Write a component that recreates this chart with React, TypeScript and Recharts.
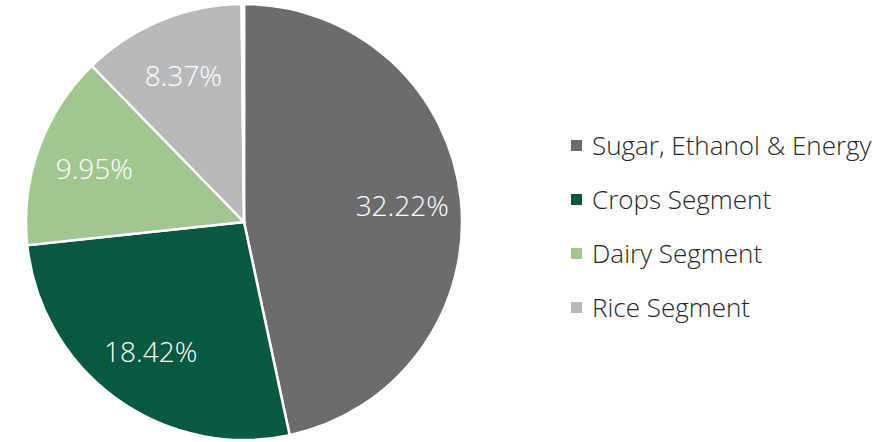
import { PieChart, Pie, Cell, Legend } from 'recharts'

const segments = ['Sugar, Ethanol & Energy', 'Crops Segment', 'Dairy Segment', 'Rice Segment', 'Others']
const shares = [32.22, 18.42, 9.95, 8.37, 0.12]
const colors = ['#6b6c6e', '#075942', '#a2c68f', '#b8b9bb', '#c3d6d6']
const legendItems = ['Sugar, Ethanol & Energy', 'Crops Segment', 'Dairy Segment', 'Rice Segment']

const data = segments.map((name, i) => ({ name, value: shares[i] }))

const FONT = '"Open Sans", sans-serif'

const RADIAN = Math.PI / 180

function SliceLabel(props: any) {
  const { cx, cy, midAngle, outerRadius, value } = props
  if (value < 1) return null
  const r = outerRadius * 0.73
  const x = cx + r * Math.cos(-midAngle * RADIAN)
  const y = cy + r * Math.sin(-midAngle * RADIAN)
  return (
    <text
      x={x}
      y={y}
      fill="#ffffff"
      textAnchor="middle"
      dominantBaseline="central"
      fontFamily={FONT}
      fontWeight={300}
      fontSize={28}
    >
      {value.toFixed(2)}%
    </text>
  )
}

function LegendBox() {
  return (
    <div style={{ fontFamily: FONT, fontWeight: 300, fontSize: 26, color: '#262626', lineHeight: 1 }}>
      {legendItems.map((name, i) => (
        <div key={name} style={{ display: 'flex', alignItems: 'center', height: 54 }}>
          <span
            style={{
              width: 11,
              height: 11,
              background: colors[i],
              display: 'inline-block',
              marginRight: 10,
              flex: 'none',
            }}
          />
          <span>{name}</span>
        </div>
      ))}
    </div>
  )
}

export default function App() {
  return (
    <div style={{ position: 'absolute', left: 0, top: 0, width: 896, height: 442, background: '#fff' }}>
      <PieChart width={896} height={442} margin={{ top: 0, right: 0, bottom: 0, left: 0 }}>
        <Pie
          data={data}
          dataKey="value"
          nameKey="name"
          cx={244}
          cy={222}
          outerRadius={218}
          startAngle={90}
          endAngle={-270}
          stroke="#ffffff"
          strokeWidth={2.5}
          labelLine={false}
          label={SliceLabel}
          isAnimationActive={false}
        >
          {data.map((d, i) => (
            <Cell key={d.name} fill={colors[i]} />
          ))}
        </Pie>
        <Legend
          layout="vertical"
          verticalAlign="top"
          align="right"
          wrapperStyle={{ left: 571, top: 118, width: 325 }}
          content={<LegendBox />}
        />
      </PieChart>
    </div>
  )
}
